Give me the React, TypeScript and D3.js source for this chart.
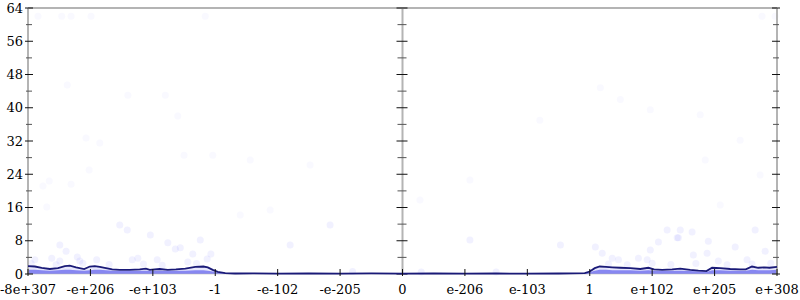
import React from "react";
import * as d3 from "d3";

const yTicks = [0, 8, 16, 24, 32, 40, 48, 56, 64];
const xTickLabels = ["-8e+307", "-e+206", "-e+103", "-1", "-e-102", "-e-205", "0", "e-206", "e-103", "1", "e+102", "e+205", "e+308"];

// density line (x in tick-index units, y in value units)
const lineX = [0, 0.11, 0.22, 0.35, 0.48, 0.59, 0.67, 0.77, 0.9, 0.99, 1.07, 1.15, 1.25, 1.35, 1.47, 1.63, 1.79, 1.89, 1.95, 2.11, 2.24, 2.37, 2.52, 2.68, 2.81, 2.88, 2.96, 3.04, 3.16, 3.32, 3.6, 4.0, 4.5, 5.0, 5.5, 6.0, 6.5, 7.0, 7.5, 8.0, 8.5, 8.92, 9.0, 9.08, 9.16, 9.26, 9.36, 9.49, 9.65, 9.81, 9.94, 10.03, 10.16, 10.32, 10.45, 10.61, 10.74, 10.87, 10.96, 11.09, 11.25, 11.41, 11.5, 11.6, 11.7, 11.8, 11.88, 12.0];
const lineY = [1.9, 1.8, 1.5, 1.2, 1.4, 1.9, 2.0, 1.6, 1.2, 1.8, 1.9, 1.7, 1.4, 1.1, 1.0, 1.0, 1.1, 1.3, 1.0, 1.2, 1.0, 1.1, 1.3, 1.7, 1.8, 1.6, 1.0, 0.5, 0.2, 0.12, 0.15, 0.1, 0.12, 0.1, 0.15, 0.1, 0.12, 0.1, 0.12, 0.1, 0.12, 0.2, 0.6, 1.4, 1.8, 1.7, 1.6, 1.5, 1.4, 1.2, 1.5, 1.1, 1.0, 1.1, 1.3, 1.0, 0.8, 0.7, 1.5, 1.4, 1.2, 1.1, 1.1, 1.8, 1.5, 1.6, 1.5, 1.7];
// dense band of overlapping points near the floor
const bandY = [1.0, 1.0, 0.9, 0.8, 0.9, 1.0, 1.0, 0.9, 0.8, 0.9, 1.0, 1.0, 0.9, 0.8, 0.7, 0.7, 0.8, 0.8, 0.7, 0.8, 0.7, 0.8, 0.8, 0.9, 0.9, 0.8, 0.6, 0.3, 0.1, 0.08, 0.1, 0.08, 0.1, 0.08, 0.1, 0.08, 0.1, 0.08, 0.1, 0.08, 0.1, 0.15, 0.4, 0.8, 1.0, 1.0, 0.9, 0.9, 0.9, 0.8, 0.9, 0.8, 0.7, 0.8, 0.8, 0.7, 0.6, 0.5, 0.9, 0.9, 0.8, 0.8, 0.8, 1.0, 0.9, 0.9, 0.9, 1.0];

// scattered samples
const scatterX = [0.16, 0.54, 0.69, 1.01, 2.84, 11.76, 11.97, 0.93, 1.15, 0.98, 0.34, 0.24, 0.69, 0.3, 0.63, 1.6, 2.2, 2.4, 2.5, 2.96, 3.56, 3.4, 3.88, 4.52, 4.84, 4.2, 6.28, 7.08, 8.2, 9.17, 9.49, 9.97, 10.77, 11.41, 11.73, 10.85, 11.65, 7.08, 8.53, 10.45, 11.09, 1.96, 1.47, 0.51, 2.76, 0.61, 0.38, 0.11, 0.79, 1.1, 1.59, 0.51, 0.83, 2.24, 2.36, 2.44, 1.76, 1.67, 2.07, 2.64, 2.87, 2.93, 2.56, 9.09, 9.2, 9.36, 9.46, 9.78, 9.97, 10.1, 10.24, 10.4, 9.92, 10.42, 10.64, 10.9, 11.33, 11.81, 10.88, 11.06, 11.52, 10.66, 0.05, 0.45, 0.88, 1.3, 1.85, 2.15, 2.7, 9.3, 9.6, 10.0, 10.3, 10.7, 11.2, 11.6, 11.9, 6.3, 5.2, 7.5];
const scatterY = [62, 62, 62, 62, 62, 62, 62, 32.7, 31.5, 25, 22.4, 21.2, 21.6, 16.1, 45.5, 43, 43, 38, 28.6, 28.6, 27.4, 14.2, 15.4, 26.2, 11.8, 7, 17.8, 22.6, 37, 44.8, 42, 39.5, 38.3, 32.2, 23.8, 27.4, 10.6, 8.2, 7, 10.6, 16.6, 9.4, 11.8, 7, 8.2, 5.5, 3.8, 3.4, 4.1, 3.4, 10.6, 3.1, 3.1, 7.5, 6, 6.3, 3.8, 3.4, 3.4, 4.8, 3.6, 4.8, 2.9, 6.5, 5, 3.8, 3.4, 3.8, 5.8, 7.7, 10.6, 8.7, 3.4, 8.7, 10.1, 7.9, 6.5, 5.5, 5, 3.1, 3.4, 4.6, 2.5, 2.2, 2.6, 2.3, 2.4, 2.1, 2.5, 2.4, 2.2, 2.6, 2.3, 2.5, 2.2, 2.4, 2.6, 0.5, 0.6, 0.5];

const W = 800;
const H = 300;

export default function App() {
  const x = d3.scaleLinear().domain([0, 12]).range([28, 777]);
  const y = d3.scaleLinear().domain([0, 64]).range([274, 8]);

  const linePts: [number, number][] = lineX.map((v, i) => [v, lineY[i]]);
  const line = d3.line<[number, number]>().x((d) => x(d[0])).y((d) => y(d[1]));
  const area = d3
    .area<[number, number]>()
    .x((d) => x(d[0]))
    .y0(y(0))
    .y1((d) => y(d[1]));
  const bandPts: [number, number][] = lineX.map((v, i) => [v, bandY[i]]);

  const minor = d3.range(4, 64, 8);
  const axesX = [
    { v: 0, l: -3, r: 5 },
    { v: 6, l: -6, r: 5 },
    { v: 12, l: -5, r: 3 },
  ];

  return (
    <svg width={W} height={H} style={{ position: "absolute", left: 0, top: 0 }}>
      <rect width={W} height={H} fill="#fff" />
      {/* filled areas */}
      <path d={area(linePts) || ""} fill="#e6e6fc" />
      <path d={area(bandPts) || ""} fill="#7676ee" opacity={0.85} />
      {/* scatter */}
      <g>
        {scatterX.map((v, i) => (
          <circle key={i} cx={x(v)} cy={y(scatterY[i])} r={3.5} fill="#3b3bff" opacity={scatterY[i] > 12 ? 0.03 : 0.07} />
        ))}
      </g>
      {/* frame lines */}
      <line x1={x(0)} x2={x(12)} y1={y(64)} y2={y(64)} stroke="#b4b4b4" strokeWidth={2} />
      <line x1={x(0)} x2={x(12)} y1={y(0)} y2={y(0)} stroke="#b4b4b4" strokeWidth={1} opacity={0.5} />
      {axesX.map((a) => (
        <g key={a.v}>
          <line x1={x(a.v)} x2={x(a.v)} y1={y(0)} y2={y(64)} stroke="#b4b4b4" strokeWidth={2} />
          {yTicks.map((t) => (
            <line key={t} x1={x(a.v) + a.l} x2={x(a.v) + a.r} y1={y(t)} y2={y(t)} stroke="#111" strokeWidth={1} />
          ))}
          {minor.map((t) => (
            <line key={"m" + t} x1={x(a.v) + a.l + 1} x2={x(a.v) + a.r - 1} y1={y(t)} y2={y(t)} stroke="#555" strokeWidth={1} />
          ))}
        </g>
      ))}
      {/* data line */}
      <path d={line(linePts) || ""} fill="none" stroke="#1a1a78" strokeWidth={1.8} />
      {/* x ticks */}
      {xTickLabels.map((lab, i) => (
        <g key={lab}>
          <line x1={x(i)} x2={x(i)} y1={y(0) - 5} y2={y(0) + 2} stroke="#111" strokeWidth={1} />
          <text x={x(i)} y={294} textAnchor="middle" fontFamily="DejaVu Serif" fontSize={13} fill="#000">
            {lab}
          </text>
        </g>
      ))}
      {/* y labels */}
      {yTicks.map((t) => (
        <text key={t} x={23} y={y(t) + 4.5} textAnchor="end" fontFamily="DejaVu Serif" fontSize={13} fill="#000">
          {t}
        </text>
      ))}
    </svg>
  );
}
